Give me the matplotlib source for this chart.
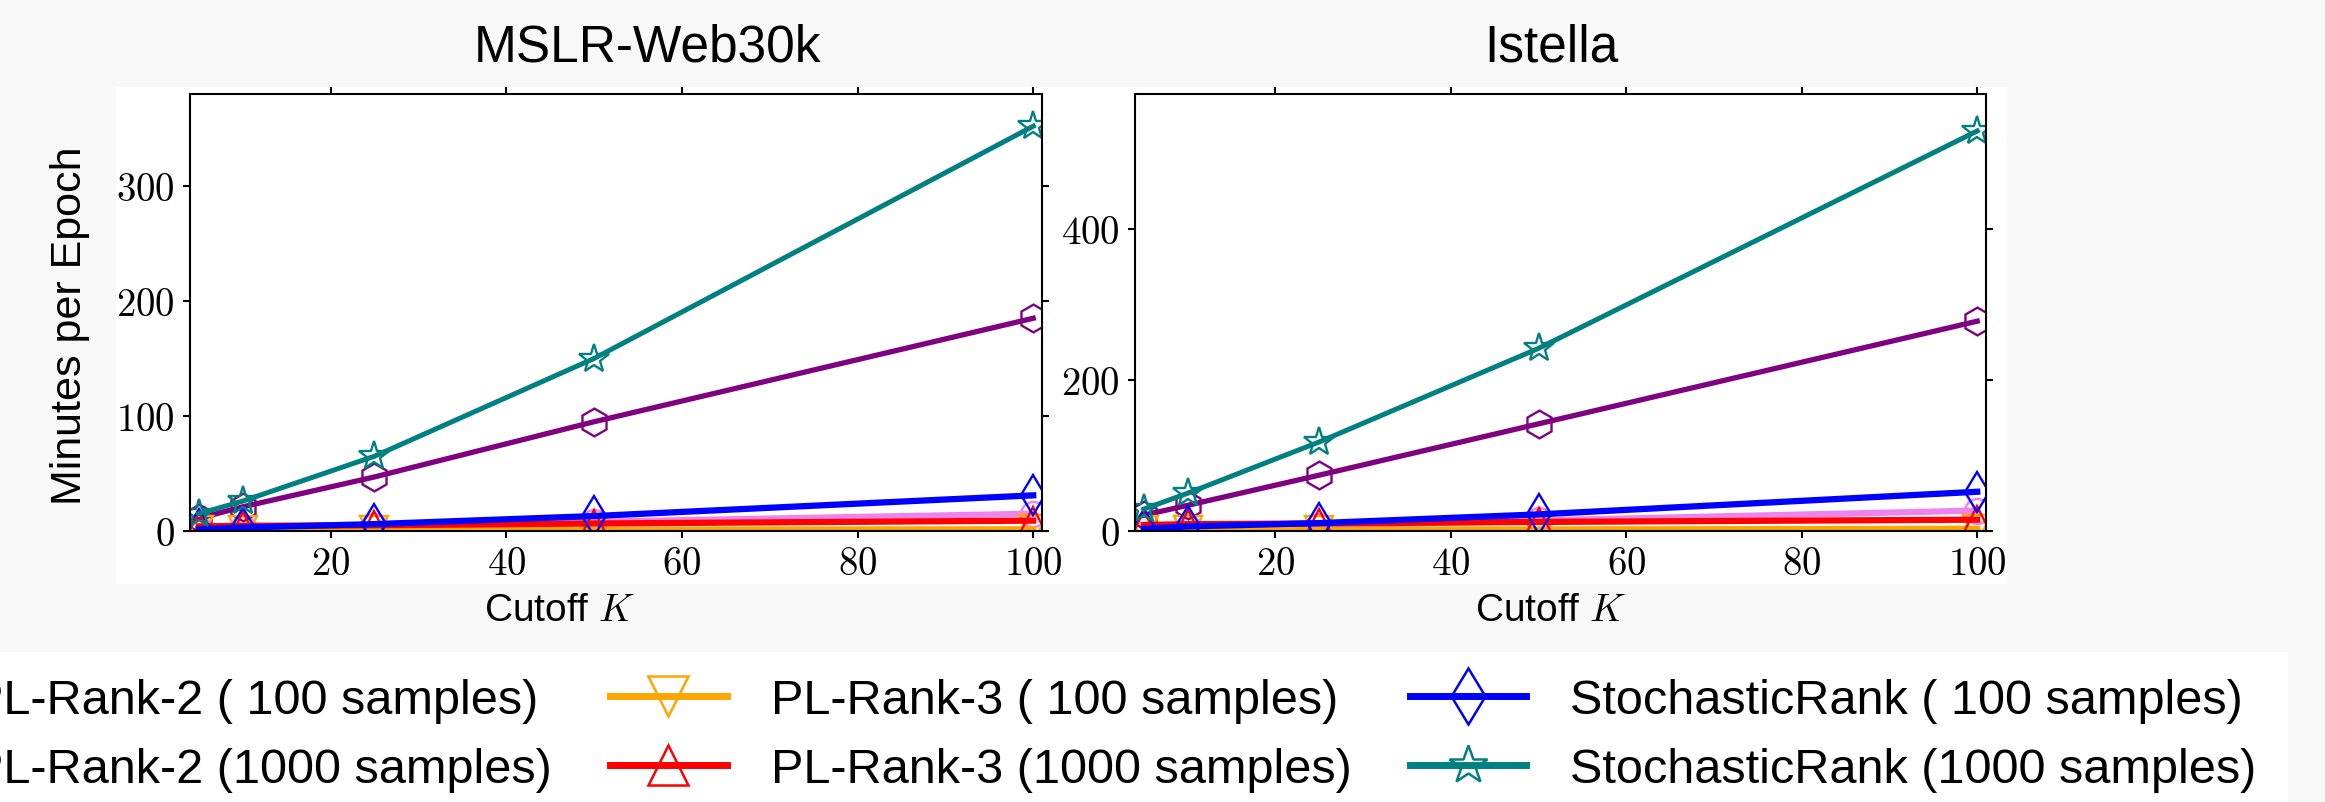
import matplotlib
matplotlib.use("Agg")
import matplotlib.pyplot as plt
from matplotlib.lines import Line2D
from matplotlib.patches import Rectangle
from matplotlib.ticker import FuncFormatter, FixedLocator
from matplotlib import font_manager as fm

# ---------------- data ----------------
cutoffs = [5, 10, 25, 50, 100]

series_labels = [
    "PL-Rank-2 ( 100 samples)",
    "PL-Rank-2 (1000 samples)",
    "PL-Rank-3 ( 100 samples)",
    "PL-Rank-3 (1000 samples)",
    "StochasticRank ( 100 samples)",
    "StochasticRank (1000 samples)",
]

mslr_plrank2_100 = [1.5, 2.5, 4.5, 8, 15]
mslr_plrank2_1000 = [11, 21, 47, 95, 185]
mslr_plrank3_100 = [0.5, 0.6, 0.8, 1.0, 1.5]
mslr_plrank3_1000 = [4, 4.5, 5, 6.5, 9]
mslr_stoch_100 = [1.5, 3, 6, 13, 31]
mslr_stoch_1000 = [15, 26, 65, 150, 352]

istella_plrank2_100 = [2, 4, 7, 14, 27]
istella_plrank2_1000 = [21, 34, 74, 142, 278]
istella_plrank3_100 = [1, 1.2, 1.5, 2, 3]
istella_plrank3_1000 = [8, 9, 10, 12, 15]
istella_stoch_100 = [3, 6, 10.5, 22, 52]
istella_stoch_1000 = [29, 50, 118, 242, 530]

panel_titles = ["MSLR-Web30k", "Istella"]
xticks = [20, 40, 60, 80, 100]
yticks_mslr = [0, 100, 200, 300]
yticks_istella = [0, 200, 400]

# ---------------- style ----------------
colors = ["violet", "purple", "orange", "red", "blue", "teal"]
markers = ["o", "h", "v", "^", "d", "*"]
linewidths = [4.5, 3.8, 4.5, 4.5, 4.5, 3.6]
msizes = [18, 20, 20, 20, 20, 22]

avail = {f.name for f in fm.fontManager.ttflist}
sans = "Liberation Sans" if "Liberation Sans" in avail else "DejaVu Sans"
plt.rcParams["font.family"] = [sans, "DejaVu Sans"]
plt.rcParams["mathtext.fontset"] = "cm"

W, H = 2325, 803
fig = plt.figure(figsize=(W / 100, H / 100), dpi=100)
fig.patch.set_facecolor("#f8f8f8")

def fx(px):
    return px / W

def fy(py):
    return 1 - py / H

# white backdrop behind the panels
fig.add_artist(Rectangle((fx(116), fy(585)), fx(2007 - 116), (585 - 88) / H,
                         transform=fig.transFigure, facecolor="white",
                         edgecolor="none", zorder=-5))
# white backdrop behind the legend
fig.add_artist(Rectangle((0, 0), fx(2288), (803 - 653) / H,
                         transform=fig.transFigure, facecolor="white",
                         edgecolor="none", zorder=-5))

ax_h = (532 - 95) / H
ax1 = fig.add_axes([fx(190), fy(532), fx(1042 - 190), ax_h])
ax2 = fig.add_axes([fx(1135), fy(532), fx(1986 - 1135), ax_h])

data_sets = [
    [mslr_plrank2_100, mslr_plrank2_1000, mslr_plrank3_100,
     mslr_plrank3_1000, mslr_stoch_100, mslr_stoch_1000],
    [istella_plrank2_100, istella_plrank2_1000, istella_plrank3_100,
     istella_plrank3_1000, istella_stoch_100, istella_stoch_1000],
]
ylims = [(0, 380), (0, 579)]
ytick_sets = [yticks_mslr, yticks_istella]

fmt = FuncFormatter(lambda v, p: r"$%d$" % v)

for ax, ds, yl, yt in zip([ax1, ax2], data_sets, ylims, ytick_sets):
    ax.set_facecolor("white")
    for vals, c, m, lw, ms in zip(ds, colors, markers, linewidths, msizes):
        ax.plot(cutoffs, vals, color=c, lw=lw, marker=m, markersize=ms,
                markerfacecolor="none", markeredgecolor=c, markeredgewidth=1.7)
    ax.set_xlim(4, 101)
    ax.set_ylim(*yl)
    ax.xaxis.set_major_locator(FixedLocator(xticks))
    ax.yaxis.set_major_locator(FixedLocator(yt))
    ax.xaxis.set_major_formatter(fmt)
    ax.yaxis.set_major_formatter(fmt)
    ax.tick_params(axis="both", which="major", direction="out", length=5,
                   width=1.5, labelsize=28, top=True, right=True,
                   labeltop=False, labelright=False, pad=6)
    for s in ax.spines.values():
        s.set_linewidth(1.5)

# titles and labels
fig.text(fx(648), fy(48), panel_titles[0], ha="center", va="center", fontsize=37)
fig.text(fx(1551), fy(48), panel_titles[1], ha="center", va="center", fontsize=37)
fig.text(fx(560), fy(611), r"Cutoff $K$", ha="center", va="center", fontsize=28)
fig.text(fx(1551), fy(611), r"Cutoff $K$", ha="center", va="center", fontsize=28)
fig.text(fx(70), fy(326), "Minutes per Epoch", ha="center", va="center",
         rotation=90, fontsize=31)

# legend
handles = [Line2D([], [], color=c, lw=5, marker=m, markersize=29,
                  markerfacecolor="none", markeredgecolor=c, markeredgewidth=1.8)
           for c, m in zip(colors, markers)]
fig.legend(handles, series_labels, ncol=3, loc="center right",
           bbox_to_anchor=(fx(2300), fy(736)), frameon=False, fontsize=35,
           handlelength=2.4, handletextpad=0.9, columnspacing=1.2,
           labelspacing=0.5, borderpad=0.4)

fig.savefig("out.png", dpi=100, facecolor=fig.get_facecolor())
